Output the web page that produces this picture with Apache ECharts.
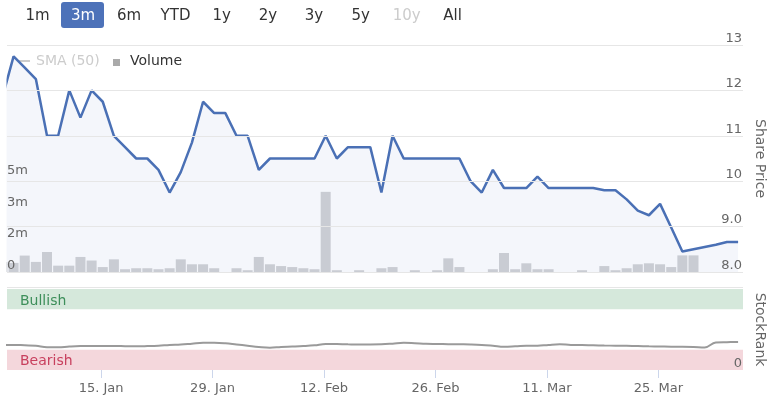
<!DOCTYPE html>
<html><head><meta charset="utf-8">
<script src="https://cdn.jsdelivr.net/npm/echarts@6/dist/echarts.min.js"></script>
<style>html,body{margin:0;padding:0;background:#fff}#c{width:771px;height:396px}</style>
</head><body><div id="c"></div>
<script>
// ---- data ----
const dates = ['2024-01-02','2024-01-03','2024-01-04','2024-01-05','2024-01-08','2024-01-09','2024-01-10','2024-01-11','2024-01-12',
'2024-01-15','2024-01-16','2024-01-17','2024-01-18','2024-01-19','2024-01-22','2024-01-23','2024-01-24','2024-01-25','2024-01-26',
'2024-01-29','2024-01-30','2024-01-31','2024-02-01','2024-02-02','2024-02-05','2024-02-06','2024-02-07','2024-02-08','2024-02-09',
'2024-02-12','2024-02-13','2024-02-14','2024-02-15','2024-02-16','2024-02-19','2024-02-20','2024-02-21','2024-02-22','2024-02-23',
'2024-02-26','2024-02-27','2024-02-28','2024-02-29','2024-03-01','2024-03-04','2024-03-05','2024-03-06','2024-03-07','2024-03-08',
'2024-03-11','2024-03-12','2024-03-13','2024-03-14','2024-03-15','2024-03-18','2024-03-19','2024-03-20','2024-03-21','2024-03-22',
'2024-03-25','2024-03-26','2024-03-27','2024-03-28','2024-04-02','2024-04-03','2024-04-04','2024-04-05'];
const sharePrice = [11.85,12.75,12.5,12.25,11.0,11.0,12.0,11.4,12.0,
11.75,11.0,10.75,10.5,10.5,10.25,9.75,10.2,10.85,11.75,
11.5,11.5,11.0,11.0,10.25,10.5,10.5,10.5,10.5,10.5,
11.0,10.5,10.75,10.75,10.75,9.75,11.0,10.5,10.5,10.5,
10.5,10.5,10.5,10.0,9.75,10.25,9.85,9.85,9.85,10.1,
9.85,9.85,9.85,9.85,9.85,9.8,9.8,9.6,9.35,9.25,
9.5,8.98,8.45,8.5,8.55,8.6,8.66,8.66];
const volumeMillions = [0.5,0.46,0.83,0.51,1.01,0.32,0.32,0.76,0.58,
0.25,0.64,0.14,0.19,0.19,0.14,0.19,0.64,0.39,0.39,
0.19,0,0.19,0.09,0.76,0.39,0.30,0.25,0.19,0.14,
4.05,0.09,0,0.09,0,0.19,0.25,0,0.09,0,
0.09,0.69,0.25,0,0,0.14,0.96,0.14,0.44,0.14,
0.14,0,0,0.09,0,0.30,0.09,0.19,0.39,0.44,
0.39,0.25,0.84,0.84,0,0,0,0];
const stockRank = [31,31,30.5,30,28,28,29,29.5,29.5,
29.6,29.6,29.4,29.2,29.5,30,30.9,31.5,32.5,33.5,
33.7,33,31.5,30,28.5,27.6,28.5,29,29.6,30.5,
32.1,32,31.7,31.5,31.5,31.7,32.5,33.5,33,32.3,
32.1,31.9,31.7,31.5,31,30,28.8,29.2,29.8,30,
31,31.7,31,30.9,30.5,30.2,30,29.8,29.5,29.2,
29,28.8,28.8,28.5,27.8,34,34.4,34.6];
const xTickDates = ['2024-01-15','2024-01-29','2024-02-12','2024-02-26','2024-03-11','2024-03-25'];
const priceTicks = [8,9,10,11,12,13];
const volumeTickStepMillions = 1.6;
const volumeLabelMaxMillions = 5;
const rankTicks = [0];
const rangeButtons = ['1m','3m','6m','YTD','1y','2y','3y','5y','10y','All'];
const legendItems = ['SMA (50)','Volume'];
const bandNames = ['Bullish','Bearish'];
const monthNames = ['Jan','Feb','Mar','Apr','May','Jun','Jul','Aug','Sep','Oct','Nov','Dec'];

// ---- layout ----
const FONT = 'DejaVu Sans';
const xMin = 0.41, xMax = 66.44, tickShift = 0.15;
const tickVals = xTickDates.map(d => dates.indexOf(d) - tickShift);
function fmtDate(v){
  const d = dates[Math.round(v + tickShift)];
  const p = d.split('-');
  return parseInt(p[2],10) + '. ' + monthNames[parseInt(p[1],10)-1];
}

const btnX = [37.5,83,129,175.5,221.7,268,314,360.7,406.7,452.5];
const graphic = [
  {type:'rect', shape:{x:61,y:2,width:43,height:26,r:3}, style:{fill:'#4d72b9'}, z:0}
];
rangeButtons.forEach((b,i)=>{
  graphic.push({type:'text', x:btnX[i], y:16, style:{text:b, font:'15px "'+FONT+'"', fill: i===1?'#fff':(b==='10y'?'#cccccc':'#333333'), align:'center', verticalAlign:'middle'}, z:1});
});
// white mask left of the plot (hides clipped overflow)
graphic.push({type:'rect', shape:{x:0,y:40,width:6.5,height:235}, style:{fill:'#ffffff'}, z:50});
graphic.push({type:'line', shape:{x1:16,y1:61,x2:30,y2:61}, style:{stroke:'#cccccc', lineWidth:2}, z:0});
graphic.push({type:'text', x:36, y:61, style:{text:legendItems[0], font:'14px "'+FONT+'"', fill:'#cccccc', verticalAlign:'middle'}, z:0});
graphic.push({type:'rect', shape:{x:113,y:59,width:7,height:7}, style:{fill:'#aaaaaa'}, z:0});
graphic.push({type:'text', x:130, y:61, style:{text:legendItems[1], font:'14px "'+FONT+'"', fill:'#333333', verticalAlign:'middle'}, z:0});
graphic.push({type:'line', shape:{x1:7,y1:287.5,x2:743,y2:287.5}, style:{stroke:'#e6e6e6', lineWidth:1}, z:0});

const chart = echarts.init(document.getElementById('c'), null, {renderer:'canvas'});
chart.setOption({
  animation:false,
  textStyle:{fontFamily:FONT},
  graphic: graphic,
  grid:[
    {left:7, right:28, top:45, height:227, outerBoundsMode:'none', containLabel:false},
    {left:7, right:28, top:289, height:81, outerBoundsMode:'none', containLabel:false}
  ],
  xAxis:[
    {type:'value', gridIndex:0, min:xMin, max:xMax, axisLine:{show:false}, axisTick:{show:false}, axisLabel:{show:false}, splitLine:{show:false}},
    {type:'value', gridIndex:1, min:xMin, max:xMax, axisLine:{show:false},
      axisTick:{show:true, customValues:tickVals, length:8, lineStyle:{color:'#ccd6eb'}},
      axisLabel:{customValues:tickVals, formatter:fmtDate, color:'#666', fontSize:13, margin:12, fontFamily:FONT},
      splitLine:{show:false}}
  ],
  yAxis:[
    {type:'value', gridIndex:0, position:'right', z:6, min:priceTicks[0], max:priceTicks[priceTicks.length-1], interval:1,
      axisLine:{show:false}, axisTick:{show:false},
      axisLabel:{inside:true, margin:1, verticalAlign:'bottom', color:'#666', fontSize:13, fontFamily:FONT,
        showMinLabel:true, showMaxLabel:true, hideOverlap:false,
        formatter:v => v < 10 ? v.toFixed(1) : String(v)},
      splitLine:{lineStyle:{color:'#e6e6e6'}},
      name:'Share Price', nameLocation:'middle', nameRotate:-90, nameGap:6,
      nameTextStyle:{color:'#666', fontSize:14, fontFamily:FONT}},
    {type:'value', gridIndex:0, position:'left', z:6, min:0, max:11.47e6, interval:volumeTickStepMillions*1e6,
      axisLine:{show:false}, axisTick:{show:false}, splitLine:{show:false},
      axisLabel:{inside:true, margin:0, verticalAlign:'bottom', color:'#666', fontSize:13, fontFamily:FONT,
        showMinLabel:true, showMaxLabel:false, hideOverlap:false,
        formatter:v => v===0 ? '0' : (v/1e6 > volumeLabelMaxMillions ? '' : Math.round(v/1e6)+'m')}},
    {type:'value', gridIndex:1, position:'right', z:6, min:0, max:100, interval:100,
      axisLine:{show:false}, axisTick:{show:false}, splitLine:{show:false},
      axisLabel:{inside:true, margin:1, verticalAlign:'bottom', color:'#666', fontSize:13, fontFamily:FONT,
        showMinLabel:true, showMaxLabel:false, hideOverlap:false,
        formatter:v => rankTicks.indexOf(v) >= 0 ? String(v) : ''},
      name:'StockRank', nameLocation:'middle', nameRotate:-90, nameGap:8,
      nameTextStyle:{color:'#666', fontSize:14, fontFamily:FONT}}
  ],
  series:[
    {type:'line', name:'Share Price', xAxisIndex:0, yAxisIndex:0, z:1, clip:true,
      data: dates.map((d,i)=>[i, sharePrice[i]]), symbol:'none',
      lineStyle:{color:'#4a70b5', width:2.5}, areaStyle:{color:'#f4f6fb', origin:'start', opacity:1}},
    {type:'bar', name:'Volume', xAxisIndex:0, yAxisIndex:1, z:2, clip:true,
      data: dates.map((d,i)=>[i, volumeMillions[i]*1e6]), barWidth:10,
      itemStyle:{color:'#c9ccd3'}},
    {type:'line', name:'StockRank', xAxisIndex:1, yAxisIndex:2, z:3, clip:true,
      data: dates.map((d,i)=>[i, stockRank[i]]), symbol:'none', smooth:0.4,
      lineStyle:{color:'#9a9a9a', width:2},
      markArea:{silent:true, data:[
        [{xAxis:xMin, yAxis:75, name:bandNames[0], itemStyle:{color:'#d5e8db'},
          label:{color:'#3d8f5a', position:[13,4], fontSize:14, fontFamily:FONT, lineHeight:16}},
         {xAxis:xMax, yAxis:100}],
        [{xAxis:xMin, yAxis:0, name:bandNames[1], itemStyle:{color:'#f4d7dc'},
          label:{color:'#c8405e', position:[13,4], fontSize:14, fontFamily:FONT, lineHeight:16}},
         {xAxis:xMax, yAxis:25}]
      ]}}
  ]
});
</script></body></html>
